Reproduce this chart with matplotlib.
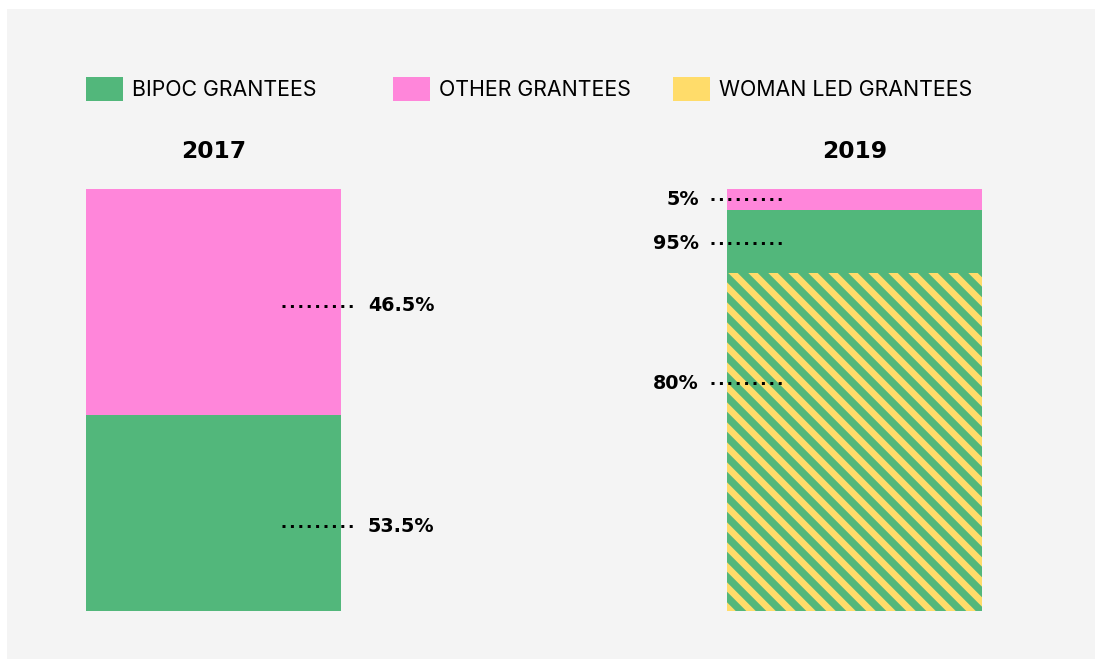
import matplotlib.pyplot as plt
from matplotlib.patches import Rectangle, Patch

plt.rcParams['font.family'] = ['Inter', 'DejaVu Sans']
plt.rcParams['hatch.linewidth'] = 4.0

# data
years = ['2017', '2019']
bipoc = [46.5, 15]          # solid green segment
woman_led_bipoc = [0, 80]   # hatched segment (woman led + bipoc)
other = [53.5, 5]
labels_2017 = [('53.5%', 20.1), ('46.5%', 72.3)]
labels_2019 = [('5%', 97.6), ('95%', 87.2), ('80%', 54.0)]
legend_names = ['BIPOC GRANTEES', 'OTHER GRANTEES', 'WOMAN LED GRANTEES']

green = '#52b77b'
pink = '#ff86da'
yellow = '#ffdc6a'
bg = '#f4f4f4'

W, H = 1095, 659
dpi = 120
fig = plt.figure(figsize=(W / dpi, H / dpi), dpi=dpi)
fig.patch.set_facecolor('white')
fig.patches.append(Rectangle((7 / W, 0), 1, (H - 9) / H, transform=fig.transFigure,
                             facecolor=bg, edgecolor='none', zorder=-10))

ax = fig.add_axes([86 / W, (H - 611) / H, (982 - 86) / W, (611 - 189) / H])
ax.set_facecolor('none')
bw = 255 / 641
x = [0, 1]

ax.bar(x, woman_led_bipoc, width=bw, color=green, edgecolor=yellow, hatch='\\\\',
       linewidth=0)
ax.bar(x, bipoc, width=bw, bottom=woman_led_bipoc, color=green, linewidth=0)
bottoms = [a + b for a, b in zip(woman_led_bipoc, bipoc)]
ax.bar(x, other, width=bw, bottom=bottoms, color=pink, linewidth=0)

ax.set_xlim(-bw / 2, 1 + bw / 2)
ax.set_ylim(0, 100)
ax.axis('off')

bold = dict(family='DejaVu Sans', fontweight='bold')
dots = dict(color='black', lw=1.8, linestyle=(0, (1, 1.8)), dash_capstyle='butt',
            clip_on=False)

# dotted leaders and labels
px = bw / 255  # one pixel in data units (x)
for txt, y in labels_2017:
    ax.plot([bw / 2 - 59 * px, bw / 2 + 15 * px], [y, y], **dots)
    ax.text(bw / 2 + 27 * px, y, txt, ha='left', va='center', fontsize=11.5, **bold)
for txt, y in labels_2019:
    ax.plot([1 - bw / 2 - 16 * px, 1 - bw / 2 + 59 * px], [y, y], **dots)
    ax.text(1 - bw / 2 - 28 * px, y, txt, ha='right', va='center', fontsize=11.5,
            **bold)

# year titles
for xi, yr in zip(x, years):
    ax.text(xi, 108.9, yr, ha='center', va='center', fontsize=14, **bold)

# legend
handles = [Patch(facecolor=green), Patch(facecolor=pink), Patch(facecolor=yellow)]
sq_x = [86, 393, 673]
for hx, name, h in zip(sq_x, legend_names, handles):
    fig.patches.append(Rectangle((hx / W, (H - 101) / H), 37 / W, 24 / H,
                                 transform=fig.transFigure,
                                 facecolor=h.get_facecolor(), edgecolor='none'))
    fig.text((hx + 46) / W, (H - 90) / H, name, ha='left', va='center',
             fontsize=12.8)

fig.savefig('out.png', dpi=dpi, facecolor=fig.get_facecolor())
